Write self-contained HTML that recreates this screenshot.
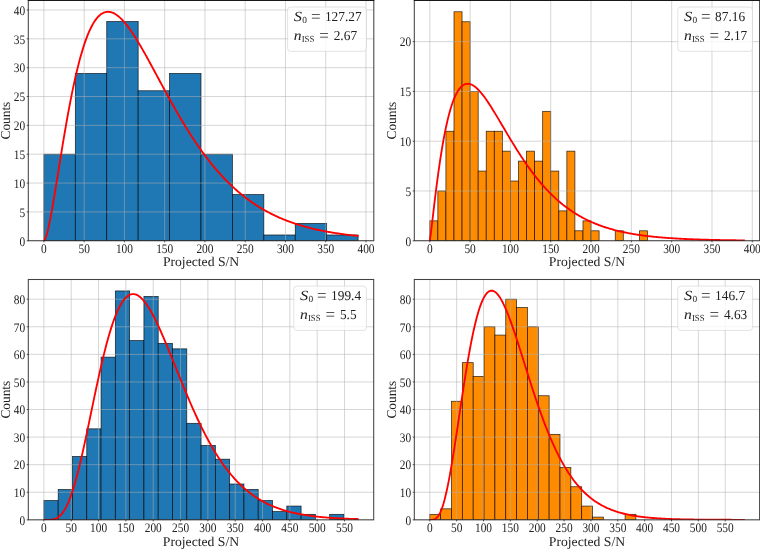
<!DOCTYPE html>
<html><head><meta charset="utf-8"><title>Projected S/N histograms</title>
<style>html,body{margin:0;padding:0;background:#fff;}body{width:760px;height:549px;overflow:hidden;font-family:"Liberation Serif", serif;}</style>
</head><body>
<svg width="760" height="549" viewBox="0 0 760 549" style="display:block;will-change:transform" text-rendering="geometricPrecision">
<defs><clipPath id="c0"><rect x="28.3" y="0.45" width="345.50" height="240.30"/></clipPath><clipPath id="c1"><rect x="414.3" y="0.45" width="345.30" height="240.30"/></clipPath><clipPath id="c2"><rect x="28.3" y="279.5" width="345.40" height="240.35"/></clipPath><clipPath id="c3"><rect x="414.3" y="279.5" width="345.30" height="240.35"/></clipPath></defs>
<g id="panel0">
<g clip-path="url(#c0)" fill="#1f77b4" stroke="#000" stroke-opacity="0.8" stroke-width="0.75">
<rect x="43.90" y="154.22" width="31.42" height="86.53"/>
<rect x="75.32" y="73.45" width="31.42" height="167.30"/>
<rect x="106.74" y="21.53" width="31.42" height="219.22"/>
<rect x="138.16" y="90.76" width="31.42" height="149.99"/>
<rect x="169.58" y="73.45" width="31.42" height="167.30"/>
<rect x="200.99" y="154.22" width="31.42" height="86.53"/>
<rect x="232.41" y="194.60" width="31.42" height="46.15"/>
<rect x="263.83" y="234.98" width="31.42" height="5.77"/>
<rect x="295.25" y="223.44" width="31.42" height="17.31"/>
<rect x="326.67" y="234.98" width="31.42" height="5.77"/>
</g>
<g clip-path="url(#c0)" stroke="#b0b0b0" stroke-opacity="0.52" stroke-width="1" fill="none">
<line x1="43.90" y1="0.45" x2="43.90" y2="240.75"/>
<line x1="84.16" y1="0.45" x2="84.16" y2="240.75"/>
<line x1="124.42" y1="0.45" x2="124.42" y2="240.75"/>
<line x1="164.68" y1="0.45" x2="164.68" y2="240.75"/>
<line x1="204.94" y1="0.45" x2="204.94" y2="240.75"/>
<line x1="245.20" y1="0.45" x2="245.20" y2="240.75"/>
<line x1="285.46" y1="0.45" x2="285.46" y2="240.75"/>
<line x1="325.72" y1="0.45" x2="325.72" y2="240.75"/>
<line x1="365.98" y1="0.45" x2="365.98" y2="240.75"/>
<line x1="28.3" y1="240.75" x2="373.8" y2="240.75"/>
<line x1="28.3" y1="211.91" x2="373.8" y2="211.91"/>
<line x1="28.3" y1="183.06" x2="373.8" y2="183.06"/>
<line x1="28.3" y1="154.22" x2="373.8" y2="154.22"/>
<line x1="28.3" y1="125.37" x2="373.8" y2="125.37"/>
<line x1="28.3" y1="96.53" x2="373.8" y2="96.53"/>
<line x1="28.3" y1="67.68" x2="373.8" y2="67.68"/>
<line x1="28.3" y1="38.84" x2="373.8" y2="38.84"/>
<line x1="28.3" y1="9.99" x2="373.8" y2="9.99"/>
</g>
<polyline clip-path="url(#c0)" points="43.90,240.75 44.95,239.52 46.00,236.94 47.05,233.45 48.09,229.27 49.14,224.54 50.19,219.36 51.24,213.82 52.29,208.00 53.34,201.96 54.38,195.74 55.43,189.40 56.48,182.97 57.53,176.49 58.58,169.98 59.63,163.48 60.67,157.00 61.72,150.58 62.77,144.22 63.82,137.94 64.87,131.77 65.92,125.70 66.96,119.76 68.01,113.94 69.06,108.27 70.11,102.75 71.16,97.38 72.21,92.16 73.25,87.11 74.30,82.23 75.35,77.52 76.40,72.98 77.45,68.61 78.50,64.41 79.54,60.39 80.59,56.55 81.64,52.88 82.69,49.38 83.74,46.06 84.79,42.90 85.83,39.92 86.88,37.11 87.93,34.46 88.98,31.97 90.03,29.64 91.08,27.48 92.13,25.46 93.17,23.60 94.22,21.89 95.27,20.33 96.32,18.91 97.37,17.63 98.42,16.49 99.46,15.47 100.51,14.59 101.56,13.84 102.61,13.21 103.66,12.70 104.71,12.30 105.75,12.02 106.80,11.85 107.85,11.78 108.90,11.82 109.95,11.96 111.00,12.19 112.04,12.51 113.09,12.93 114.14,13.43 115.19,14.01 116.24,14.68 117.29,15.42 118.33,16.23 119.38,17.12 120.43,18.08 121.48,19.10 122.53,20.18 123.58,21.32 124.62,22.52 125.67,23.78 126.72,25.08 127.77,26.44 128.82,27.84 129.87,29.29 130.91,30.78 131.96,32.31 133.01,33.88 134.06,35.48 135.11,37.12 136.16,38.79 137.20,40.49 138.25,42.21 139.30,43.96 140.35,45.74 141.40,47.54 142.45,49.36 143.50,51.19 144.54,53.05 145.59,54.92 146.64,56.80 147.69,58.69 148.74,60.60 149.79,62.52 150.83,64.44 151.88,66.38 152.93,68.32 153.98,70.26 155.03,72.21 156.08,74.15 157.12,76.11 158.17,78.06 159.22,80.01 160.27,81.96 161.32,83.90 162.37,85.85 163.41,87.79 164.46,89.72 165.51,91.65 166.56,93.57 167.61,95.49 168.66,97.40 169.70,99.30 170.75,101.19 171.80,103.07 172.85,104.94 173.90,106.80 174.95,108.65 175.99,110.49 177.04,112.31 178.09,114.13 179.14,115.93 180.19,117.71 181.24,119.49 182.28,121.25 183.33,122.99 184.38,124.72 185.43,126.44 186.48,128.14 187.53,129.82 188.58,131.49 189.62,133.15 190.67,134.79 191.72,136.41 192.77,138.01 193.82,139.60 194.87,141.18 195.91,142.73 196.96,144.27 198.01,145.80 199.06,147.30 200.11,148.79 201.16,150.27 202.20,151.72 203.25,153.16 204.30,154.58 205.35,155.99 206.40,157.37 207.45,158.74 208.49,160.10 209.54,161.43 210.59,162.75 211.64,164.06 212.69,165.34 213.74,166.61 214.78,167.86 215.83,169.10 216.88,170.32 217.93,171.52 218.98,172.71 220.03,173.88 221.07,175.03 222.12,176.17 223.17,177.29 224.22,178.40 225.27,179.49 226.32,180.56 227.36,181.62 228.41,182.66 229.46,183.69 230.51,184.70 231.56,185.70 232.61,186.68 233.66,187.65 234.70,188.60 235.75,189.54 236.80,190.47 237.85,191.38 238.90,192.27 239.95,193.16 240.99,194.02 242.04,194.88 243.09,195.72 244.14,196.55 245.19,197.36 246.24,198.16 247.28,198.95 248.33,199.73 249.38,200.49 250.43,201.24 251.48,201.98 252.53,202.70 253.57,203.42 254.62,204.12 255.67,204.81 256.72,205.49 257.77,206.16 258.82,206.81 259.86,207.46 260.91,208.09 261.96,208.71 263.01,209.33 264.06,209.93 265.11,210.52 266.15,211.10 267.20,211.67 268.25,212.23 269.30,212.79 270.35,213.33 271.40,213.86 272.44,214.38 273.49,214.90 274.54,215.40 275.59,215.90 276.64,216.38 277.69,216.86 278.73,217.33 279.78,217.79 280.83,218.24 281.88,218.69 282.93,219.12 283.98,219.55 285.03,219.97 286.07,220.39 287.12,220.79 288.17,221.19 289.22,221.58 290.27,221.96 291.32,222.34 292.36,222.71 293.41,223.07 294.46,223.43 295.51,223.77 296.56,224.12 297.61,224.45 298.65,224.78 299.70,225.11 300.75,225.42 301.80,225.73 302.85,226.04 303.90,226.34 304.94,226.63 305.99,226.92 307.04,227.20 308.09,227.48 309.14,227.75 310.19,228.02 311.23,228.28 312.28,228.54 313.33,228.79 314.38,229.04 315.43,229.28 316.48,229.51 317.52,229.75 318.57,229.97 319.62,230.20 320.67,230.42 321.72,230.63 322.77,230.84 323.81,231.05 324.86,231.25 325.91,231.45 326.96,231.64 328.01,231.83 329.06,232.02 330.11,232.20 331.15,232.38 332.20,232.56 333.25,232.73 334.30,232.90 335.35,233.07 336.40,233.23 337.44,233.39 338.49,233.54 339.54,233.69 340.59,233.84 341.64,233.99 342.69,234.13 343.73,234.27 344.78,234.41 345.83,234.55 346.88,234.68 347.93,234.81 348.98,234.93 350.02,235.06 351.07,235.18 352.12,235.30 353.17,235.42 354.22,235.53 355.27,235.64 356.31,235.75 357.36,235.86 358.41,235.96" fill="none" stroke="#ff0000" stroke-width="1.85" stroke-linejoin="round" stroke-linecap="butt"/>
<rect x="28.3" y="0.45" width="345.50" height="240.30" fill="none" stroke="#000" stroke-opacity="0.74" stroke-width="1.05"/>
<line x1="27.75" y1="0.5" x2="374.35" y2="0.5" stroke="#000" stroke-opacity="0.65" stroke-width="1"/>
<g stroke="#000" stroke-opacity="0.8" stroke-width="0.8">
<line x1="43.90" y1="240.75" x2="43.90" y2="242.35"/>
<line x1="84.16" y1="240.75" x2="84.16" y2="242.35"/>
<line x1="124.42" y1="240.75" x2="124.42" y2="242.35"/>
<line x1="164.68" y1="240.75" x2="164.68" y2="242.35"/>
<line x1="204.94" y1="240.75" x2="204.94" y2="242.35"/>
<line x1="245.20" y1="240.75" x2="245.20" y2="242.35"/>
<line x1="285.46" y1="240.75" x2="285.46" y2="242.35"/>
<line x1="325.72" y1="240.75" x2="325.72" y2="242.35"/>
<line x1="365.98" y1="240.75" x2="365.98" y2="242.35"/>
<line x1="28.3" y1="240.75" x2="26.7" y2="240.75"/>
<line x1="28.3" y1="211.91" x2="26.7" y2="211.91"/>
<line x1="28.3" y1="183.06" x2="26.7" y2="183.06"/>
<line x1="28.3" y1="154.22" x2="26.7" y2="154.22"/>
<line x1="28.3" y1="125.37" x2="26.7" y2="125.37"/>
<line x1="28.3" y1="96.53" x2="26.7" y2="96.53"/>
<line x1="28.3" y1="67.68" x2="26.7" y2="67.68"/>
<line x1="28.3" y1="38.84" x2="26.7" y2="38.84"/>
<line x1="28.3" y1="9.99" x2="26.7" y2="9.99"/>
</g>
<g font-family='"Liberation Serif", serif' font-size="13.0" fill="#222" opacity="0.999">
<text transform="translate(43.90,252.75) scale(0.875,1)" text-anchor="middle">0</text>
<text transform="translate(84.16,252.75) scale(0.875,1)" text-anchor="middle">50</text>
<text transform="translate(124.42,252.75) scale(0.875,1)" text-anchor="middle">100</text>
<text transform="translate(164.68,252.75) scale(0.875,1)" text-anchor="middle">150</text>
<text transform="translate(204.94,252.75) scale(0.875,1)" text-anchor="middle">200</text>
<text transform="translate(245.20,252.75) scale(0.875,1)" text-anchor="middle">250</text>
<text transform="translate(285.46,252.75) scale(0.875,1)" text-anchor="middle">300</text>
<text transform="translate(325.72,252.75) scale(0.875,1)" text-anchor="middle">350</text>
<text transform="translate(365.98,252.75) scale(0.875,1)" text-anchor="middle">400</text>
<text transform="translate(25.10,245.55) scale(0.875,1)" text-anchor="end">0</text>
<text transform="translate(25.10,216.71) scale(0.875,1)" text-anchor="end">5</text>
<text transform="translate(25.10,187.86) scale(0.875,1)" text-anchor="end">10</text>
<text transform="translate(25.10,159.02) scale(0.875,1)" text-anchor="end">15</text>
<text transform="translate(25.10,130.17) scale(0.875,1)" text-anchor="end">20</text>
<text transform="translate(25.10,101.33) scale(0.875,1)" text-anchor="end">25</text>
<text transform="translate(25.10,72.48) scale(0.875,1)" text-anchor="end">30</text>
<text transform="translate(25.10,43.64) scale(0.875,1)" text-anchor="end">35</text>
<text transform="translate(25.10,14.79) scale(0.875,1)" text-anchor="end">40</text>
</g>
<text x="201.05" y="266.45" text-anchor="middle" font-family='"Liberation Serif", serif' font-size="13.5" fill="#222" textLength="76.3" lengthAdjust="spacingAndGlyphs">Projected S/N</text>
<text transform="translate(10.10,120.60) rotate(-90)" text-anchor="middle" font-family='"Liberation Serif", serif' font-size="13.5" fill="#222" textLength="37.8" lengthAdjust="spacingAndGlyphs">Counts</text>
<rect x="287.60" y="7.05" width="78.80" height="44.30" rx="3" ry="3" fill="#fff" fill-opacity="0.8" stroke="#ccc" stroke-opacity="0.8" stroke-width="0.7"/>
<g font-family='"Liberation Serif", serif' font-size="13.3" fill="#222" opacity="0.999">
<text x="293.70" y="21.05" font-style="italic" font-size="14" textLength="8.2" lengthAdjust="spacingAndGlyphs">S</text>
<text x="302.20" y="23.15" font-size="9.31">0</text>
<text x="310.90" y="22.05" font-size="17">=</text>
<text transform="translate(324.90,21.25) scale(0.975,1)" font-size="13.7">127.27</text>
<text x="293.80" y="39.95" font-style="italic" font-size="14" textLength="7.8" lengthAdjust="spacingAndGlyphs">n</text>
<text x="301.70" y="42.05" font-size="9.31" textLength="12.6" lengthAdjust="spacingAndGlyphs">ISS</text>
<text x="319.30" y="40.95" font-size="17">=</text>
<text transform="translate(333.70,40.15) scale(0.975,1)" font-size="13.7">2.67</text>
</g>
</g>
<g id="panel1">
<g clip-path="url(#c1)" fill="#ff8c00" stroke="#000" stroke-opacity="0.8" stroke-width="0.75">
<rect x="429.80" y="220.84" width="8.06" height="19.91"/>
<rect x="437.86" y="190.97" width="8.06" height="49.77"/>
<rect x="445.92" y="131.25" width="8.06" height="109.50"/>
<rect x="453.99" y="11.78" width="8.06" height="228.97"/>
<rect x="462.05" y="21.74" width="8.06" height="219.01"/>
<rect x="470.11" y="91.43" width="8.06" height="149.32"/>
<rect x="478.17" y="171.06" width="8.06" height="69.69"/>
<rect x="486.23" y="131.25" width="8.06" height="109.50"/>
<rect x="494.30" y="131.25" width="8.06" height="109.50"/>
<rect x="502.36" y="151.16" width="8.06" height="89.59"/>
<rect x="510.42" y="181.02" width="8.06" height="59.73"/>
<rect x="518.48" y="161.11" width="8.06" height="79.64"/>
<rect x="526.54" y="151.16" width="8.06" height="89.59"/>
<rect x="534.61" y="161.11" width="8.06" height="79.64"/>
<rect x="542.67" y="111.34" width="8.06" height="129.41"/>
<rect x="550.73" y="171.06" width="8.06" height="69.69"/>
<rect x="558.79" y="210.88" width="8.06" height="29.87"/>
<rect x="566.85" y="151.16" width="8.06" height="89.59"/>
<rect x="574.92" y="230.79" width="8.06" height="9.96"/>
<rect x="582.98" y="220.84" width="8.06" height="19.91"/>
<rect x="591.04" y="230.79" width="8.06" height="9.96"/>
<rect x="615.23" y="230.79" width="8.06" height="9.96"/>
<rect x="639.41" y="230.79" width="8.06" height="9.96"/>
</g>
<g clip-path="url(#c1)" stroke="#b0b0b0" stroke-opacity="0.52" stroke-width="1" fill="none">
<line x1="429.80" y1="0.45" x2="429.80" y2="240.75"/>
<line x1="470.11" y1="0.45" x2="470.11" y2="240.75"/>
<line x1="510.42" y1="0.45" x2="510.42" y2="240.75"/>
<line x1="550.73" y1="0.45" x2="550.73" y2="240.75"/>
<line x1="591.04" y1="0.45" x2="591.04" y2="240.75"/>
<line x1="631.35" y1="0.45" x2="631.35" y2="240.75"/>
<line x1="671.66" y1="0.45" x2="671.66" y2="240.75"/>
<line x1="711.97" y1="0.45" x2="711.97" y2="240.75"/>
<line x1="752.28" y1="0.45" x2="752.28" y2="240.75"/>
<line x1="414.3" y1="240.75" x2="759.6" y2="240.75"/>
<line x1="414.3" y1="190.97" x2="759.6" y2="190.97"/>
<line x1="414.3" y1="141.20" x2="759.6" y2="141.20"/>
<line x1="414.3" y1="91.43" x2="759.6" y2="91.43"/>
<line x1="414.3" y1="41.65" x2="759.6" y2="41.65"/>
</g>
<polyline clip-path="url(#c1)" points="429.80,240.75 430.85,233.37 431.90,224.68 432.95,215.74 434.00,206.85 435.05,198.14 436.10,189.69 437.15,181.56 438.20,173.75 439.25,166.31 440.30,159.23 441.35,152.52 442.40,146.18 443.45,140.21 444.50,134.61 445.55,129.36 446.60,124.45 447.65,119.89 448.70,115.65 449.75,111.74 450.80,108.13 451.85,104.82 452.90,101.79 453.95,99.05 455.01,96.57 456.06,94.34 457.11,92.35 458.16,90.60 459.21,89.08 460.26,87.76 461.31,86.65 462.36,85.74 463.41,85.00 464.46,84.45 465.51,84.06 466.56,83.82 467.61,83.74 468.66,83.80 469.71,83.99 470.76,84.31 471.81,84.75 472.86,85.30 473.91,85.96 474.96,86.72 476.01,87.57 477.06,88.51 478.11,89.52 479.16,90.62 480.21,91.79 481.26,93.02 482.31,94.31 483.36,95.66 484.41,97.06 485.46,98.52 486.51,100.01 487.56,101.54 488.61,103.12 489.66,104.72 490.71,106.35 491.76,108.01 492.81,109.70 493.86,111.40 494.91,113.13 495.96,114.86 497.01,116.61 498.06,118.38 499.11,120.15 500.16,121.92 501.21,123.70 502.26,125.49 503.31,127.27 504.36,129.05 505.42,130.83 506.47,132.61 507.52,134.38 508.57,136.15 509.62,137.90 510.67,139.65 511.72,141.39 512.77,143.11 513.82,144.83 514.87,146.53 515.92,148.22 516.97,149.89 518.02,151.55 519.07,153.19 520.12,154.82 521.17,156.43 522.22,158.02 523.27,159.59 524.32,161.15 525.37,162.69 526.42,164.21 527.47,165.70 528.52,167.18 529.57,168.65 530.62,170.09 531.67,171.51 532.72,172.91 533.77,174.29 534.82,175.65 535.87,176.99 536.92,178.31 537.97,179.60 539.02,180.88 540.07,182.14 541.12,183.38 542.17,184.60 543.22,185.79 544.27,186.97 545.32,188.13 546.37,189.26 547.42,190.38 548.47,191.48 549.52,192.56 550.57,193.62 551.62,194.65 552.67,195.68 553.72,196.68 554.77,197.66 555.83,198.62 556.88,199.57 557.93,200.50 558.98,201.41 560.03,202.30 561.08,203.18 562.13,204.04 563.18,204.88 564.23,205.70 565.28,206.51 566.33,207.30 567.38,208.08 568.43,208.84 569.48,209.58 570.53,210.31 571.58,211.03 572.63,211.72 573.68,212.41 574.73,213.08 575.78,213.73 576.83,214.38 577.88,215.00 578.93,215.62 579.98,216.22 581.03,216.81 582.08,217.38 583.13,217.95 584.18,218.50 585.23,219.04 586.28,219.56 587.33,220.08 588.38,220.58 589.43,221.07 590.48,221.56 591.53,222.03 592.58,222.49 593.63,222.93 594.68,223.37 595.73,223.80 596.78,224.22 597.83,224.63 598.88,225.03 599.93,225.42 600.98,225.80 602.03,226.18 603.08,226.54 604.13,226.90 605.19,227.25 606.24,227.58 607.29,227.92 608.34,228.24 609.39,228.56 610.44,228.86 611.49,229.16 612.54,229.46 613.59,229.75 614.64,230.03 615.69,230.30 616.74,230.57 617.79,230.83 618.84,231.08 619.89,231.33 620.94,231.57 621.99,231.80 623.04,232.03 624.09,232.26 625.14,232.48 626.19,232.69 627.24,232.90 628.29,233.10 629.34,233.30 630.39,233.49 631.44,233.68 632.49,233.87 633.54,234.05 634.59,234.22 635.64,234.39 636.69,234.56 637.74,234.72 638.79,234.88 639.84,235.03 640.89,235.18 641.94,235.33 642.99,235.47 644.04,235.61 645.09,235.74 646.14,235.88 647.19,236.01 648.24,236.13 649.29,236.25 650.34,236.37 651.39,236.49 652.44,236.60 653.49,236.71 654.54,236.82 655.60,236.92 656.65,237.03 657.70,237.13 658.75,237.22 659.80,237.32 660.85,237.41 661.90,237.50 662.95,237.58 664.00,237.67 665.05,237.75 666.10,237.83 667.15,237.91 668.20,237.99 669.25,238.06 670.30,238.13 671.35,238.20 672.40,238.27 673.45,238.34 674.50,238.41 675.55,238.47 676.60,238.53 677.65,238.59 678.70,238.65 679.75,238.71 680.80,238.76 681.85,238.82 682.90,238.87 683.95,238.92 685.00,238.97 686.05,239.02 687.10,239.07 688.15,239.11 689.20,239.16 690.25,239.20 691.30,239.24 692.35,239.28 693.40,239.32 694.45,239.36 695.50,239.40 696.55,239.44 697.60,239.47 698.65,239.51 699.70,239.54 700.75,239.58 701.80,239.61 702.85,239.64 703.90,239.67 704.95,239.70 706.01,239.73 707.06,239.76 708.11,239.78 709.16,239.81 710.21,239.84 711.26,239.86 712.31,239.89 713.36,239.91 714.41,239.93 715.46,239.96 716.51,239.98 717.56,240.00 718.61,240.02 719.66,240.04 720.71,240.06 721.76,240.08 722.81,240.10 723.86,240.12 724.91,240.13 725.96,240.15 727.01,240.17 728.06,240.18 729.11,240.20 730.16,240.22 731.21,240.23 732.26,240.25 733.31,240.26 734.36,240.27 735.41,240.29 736.46,240.30 737.51,240.31 738.56,240.32 739.61,240.34 740.66,240.35 741.71,240.36 742.76,240.37 743.81,240.38 744.86,240.39" fill="none" stroke="#ff0000" stroke-width="1.85" stroke-linejoin="round" stroke-linecap="butt"/>
<rect x="414.3" y="0.45" width="345.30" height="240.30" fill="none" stroke="#000" stroke-opacity="0.74" stroke-width="1.05"/>
<line x1="413.75" y1="0.5" x2="760.15" y2="0.5" stroke="#000" stroke-opacity="0.65" stroke-width="1"/>
<g stroke="#000" stroke-opacity="0.8" stroke-width="0.8">
<line x1="429.80" y1="240.75" x2="429.80" y2="242.35"/>
<line x1="470.11" y1="240.75" x2="470.11" y2="242.35"/>
<line x1="510.42" y1="240.75" x2="510.42" y2="242.35"/>
<line x1="550.73" y1="240.75" x2="550.73" y2="242.35"/>
<line x1="591.04" y1="240.75" x2="591.04" y2="242.35"/>
<line x1="631.35" y1="240.75" x2="631.35" y2="242.35"/>
<line x1="671.66" y1="240.75" x2="671.66" y2="242.35"/>
<line x1="711.97" y1="240.75" x2="711.97" y2="242.35"/>
<line x1="752.28" y1="240.75" x2="752.28" y2="242.35"/>
<line x1="414.3" y1="240.75" x2="412.7" y2="240.75"/>
<line x1="414.3" y1="190.97" x2="412.7" y2="190.97"/>
<line x1="414.3" y1="141.20" x2="412.7" y2="141.20"/>
<line x1="414.3" y1="91.43" x2="412.7" y2="91.43"/>
<line x1="414.3" y1="41.65" x2="412.7" y2="41.65"/>
</g>
<g font-family='"Liberation Serif", serif' font-size="13.0" fill="#222" opacity="0.999">
<text transform="translate(429.80,252.75) scale(0.875,1)" text-anchor="middle">0</text>
<text transform="translate(470.11,252.75) scale(0.875,1)" text-anchor="middle">50</text>
<text transform="translate(510.42,252.75) scale(0.875,1)" text-anchor="middle">100</text>
<text transform="translate(550.73,252.75) scale(0.875,1)" text-anchor="middle">150</text>
<text transform="translate(591.04,252.75) scale(0.875,1)" text-anchor="middle">200</text>
<text transform="translate(631.35,252.75) scale(0.875,1)" text-anchor="middle">250</text>
<text transform="translate(671.66,252.75) scale(0.875,1)" text-anchor="middle">300</text>
<text transform="translate(711.97,252.75) scale(0.875,1)" text-anchor="middle">350</text>
<text transform="translate(752.28,252.75) scale(0.875,1)" text-anchor="middle">400</text>
<text transform="translate(411.10,245.55) scale(0.875,1)" text-anchor="end">0</text>
<text transform="translate(411.10,195.78) scale(0.875,1)" text-anchor="end">5</text>
<text transform="translate(411.10,146.00) scale(0.875,1)" text-anchor="end">10</text>
<text transform="translate(411.10,96.23) scale(0.875,1)" text-anchor="end">15</text>
<text transform="translate(411.10,46.45) scale(0.875,1)" text-anchor="end">20</text>
</g>
<text x="586.95" y="266.45" text-anchor="middle" font-family='"Liberation Serif", serif' font-size="13.5" fill="#222" textLength="76.3" lengthAdjust="spacingAndGlyphs">Projected S/N</text>
<text transform="translate(396.10,120.60) rotate(-90)" text-anchor="middle" font-family='"Liberation Serif", serif' font-size="13.5" fill="#222" textLength="37.8" lengthAdjust="spacingAndGlyphs">Counts</text>
<rect x="677.80" y="7.05" width="74.70" height="44.30" rx="3" ry="3" fill="#fff" fill-opacity="0.8" stroke="#ccc" stroke-opacity="0.8" stroke-width="0.7"/>
<g font-family='"Liberation Serif", serif' font-size="13.3" fill="#222" opacity="0.999">
<text x="683.90" y="21.05" font-style="italic" font-size="14" textLength="8.2" lengthAdjust="spacingAndGlyphs">S</text>
<text x="692.40" y="23.15" font-size="9.31">0</text>
<text x="701.10" y="22.05" font-size="17">=</text>
<text transform="translate(715.10,21.25) scale(0.975,1)" font-size="13.7">87.16</text>
<text x="684.00" y="39.95" font-style="italic" font-size="14" textLength="7.8" lengthAdjust="spacingAndGlyphs">n</text>
<text x="691.90" y="42.05" font-size="9.31" textLength="12.6" lengthAdjust="spacingAndGlyphs">ISS</text>
<text x="709.50" y="40.95" font-size="17">=</text>
<text transform="translate(723.90,40.15) scale(0.975,1)" font-size="13.7">2.17</text>
</g>
</g>
<g id="panel2">
<g clip-path="url(#c2)" fill="#1f77b4" stroke="#000" stroke-opacity="0.8" stroke-width="0.75">
<rect x="43.90" y="500.54" width="14.29" height="19.31"/>
<rect x="58.19" y="489.51" width="14.29" height="30.34"/>
<rect x="72.48" y="456.42" width="14.29" height="63.43"/>
<rect x="86.76" y="428.84" width="14.29" height="91.01"/>
<rect x="101.05" y="357.13" width="14.29" height="162.72"/>
<rect x="115.34" y="290.94" width="14.29" height="228.91"/>
<rect x="129.63" y="340.58" width="14.29" height="179.27"/>
<rect x="143.92" y="296.45" width="14.29" height="223.40"/>
<rect x="158.20" y="343.34" width="14.29" height="176.51"/>
<rect x="172.49" y="348.85" width="14.29" height="171.00"/>
<rect x="186.78" y="423.32" width="14.29" height="96.53"/>
<rect x="201.07" y="445.38" width="14.29" height="74.47"/>
<rect x="215.36" y="459.17" width="14.29" height="60.68"/>
<rect x="229.65" y="484.00" width="14.29" height="35.85"/>
<rect x="243.93" y="489.51" width="14.29" height="30.34"/>
<rect x="258.22" y="500.54" width="14.29" height="19.31"/>
<rect x="272.51" y="511.58" width="14.29" height="8.27"/>
<rect x="286.80" y="506.06" width="14.29" height="13.79"/>
<rect x="301.09" y="514.33" width="14.29" height="5.52"/>
<rect x="329.66" y="514.33" width="14.29" height="5.52"/>
</g>
<g clip-path="url(#c2)" stroke="#b0b0b0" stroke-opacity="0.52" stroke-width="1" fill="none">
<line x1="43.90" y1="279.5" x2="43.90" y2="519.85"/>
<line x1="71.23" y1="279.5" x2="71.23" y2="519.85"/>
<line x1="98.56" y1="279.5" x2="98.56" y2="519.85"/>
<line x1="125.89" y1="279.5" x2="125.89" y2="519.85"/>
<line x1="153.22" y1="279.5" x2="153.22" y2="519.85"/>
<line x1="180.55" y1="279.5" x2="180.55" y2="519.85"/>
<line x1="207.88" y1="279.5" x2="207.88" y2="519.85"/>
<line x1="235.21" y1="279.5" x2="235.21" y2="519.85"/>
<line x1="262.54" y1="279.5" x2="262.54" y2="519.85"/>
<line x1="289.87" y1="279.5" x2="289.87" y2="519.85"/>
<line x1="317.20" y1="279.5" x2="317.20" y2="519.85"/>
<line x1="344.53" y1="279.5" x2="344.53" y2="519.85"/>
<line x1="28.3" y1="519.85" x2="373.7" y2="519.85"/>
<line x1="28.3" y1="492.27" x2="373.7" y2="492.27"/>
<line x1="28.3" y1="464.69" x2="373.7" y2="464.69"/>
<line x1="28.3" y1="437.11" x2="373.7" y2="437.11"/>
<line x1="28.3" y1="409.53" x2="373.7" y2="409.53"/>
<line x1="28.3" y1="381.95" x2="373.7" y2="381.95"/>
<line x1="28.3" y1="354.37" x2="373.7" y2="354.37"/>
<line x1="28.3" y1="326.79" x2="373.7" y2="326.79"/>
<line x1="28.3" y1="299.21" x2="373.7" y2="299.21"/>
</g>
<polyline clip-path="url(#c2)" points="43.90,519.85 44.95,519.85 46.00,519.85 47.05,519.84 48.10,519.83 49.15,519.80 50.20,519.75 51.25,519.66 52.30,519.53 53.35,519.33 54.39,519.06 55.44,518.70 56.49,518.24 57.54,517.66 58.59,516.95 59.64,516.10 60.69,515.10 61.74,513.93 62.79,512.59 63.84,511.07 64.89,509.36 65.94,507.45 66.99,505.36 68.04,503.06 69.09,500.56 70.14,497.87 71.19,494.98 72.24,491.90 73.29,488.63 74.33,485.17 75.38,481.54 76.43,477.74 77.48,473.78 78.53,469.66 79.58,465.41 80.63,461.02 81.68,456.51 82.73,451.90 83.78,447.19 84.83,442.39 85.88,437.52 86.93,432.59 87.98,427.61 89.03,422.60 90.08,417.56 91.13,412.51 92.18,407.47 93.23,402.43 94.27,397.42 95.32,392.45 96.37,387.52 97.42,382.65 98.47,377.84 99.52,373.11 100.57,368.47 101.62,363.92 102.67,359.47 103.72,355.14 104.77,350.91 105.82,346.82 106.87,342.85 107.92,339.02 108.97,335.32 110.02,331.78 111.07,328.38 112.12,325.13 113.17,322.04 114.21,319.11 115.26,316.34 116.31,313.73 117.36,311.29 118.41,309.01 119.46,306.89 120.51,304.94 121.56,303.16 122.61,301.54 123.66,300.08 124.71,298.79 125.76,297.66 126.81,296.69 127.86,295.87 128.91,295.21 129.96,294.70 131.01,294.35 132.06,294.14 133.11,294.07 134.15,294.14 135.20,294.35 136.25,294.70 137.30,295.17 138.35,295.77 139.40,296.50 140.45,297.34 141.50,298.30 142.55,299.36 143.60,300.54 144.65,301.82 145.70,303.19 146.75,304.66 147.80,306.22 148.85,307.86 149.90,309.59 150.95,311.40 152.00,313.28 153.05,315.23 154.09,317.24 155.14,319.32 156.19,321.45 157.24,323.64 158.29,325.88 159.34,328.17 160.39,330.50 161.44,332.87 162.49,335.28 163.54,337.72 164.59,340.19 165.64,342.69 166.69,345.21 167.74,347.75 168.79,350.31 169.84,352.88 170.89,355.47 171.94,358.07 172.99,360.67 174.03,363.28 175.08,365.89 176.13,368.50 177.18,371.11 178.23,373.71 179.28,376.31 180.33,378.90 181.38,381.48 182.43,384.05 183.48,386.61 184.53,389.15 185.58,391.67 186.63,394.18 187.68,396.67 188.73,399.13 189.78,401.58 190.83,404.00 191.88,406.40 192.93,408.78 193.97,411.13 195.02,413.45 196.07,415.74 197.12,418.01 198.17,420.25 199.22,422.46 200.27,424.65 201.32,426.80 202.37,428.92 203.42,431.01 204.47,433.07 205.52,435.10 206.57,437.09 207.62,439.06 208.67,440.99 209.72,442.89 210.77,444.76 211.82,446.59 212.86,448.39 213.91,450.17 214.96,451.90 216.01,453.61 217.06,455.28 218.11,456.93 219.16,458.54 220.21,460.12 221.26,461.66 222.31,463.18 223.36,464.67 224.41,466.12 225.46,467.55 226.51,468.94 227.56,470.31 228.61,471.64 229.66,472.95 230.71,474.22 231.76,475.47 232.80,476.69 233.85,477.89 234.90,479.05 235.95,480.19 237.00,481.30 238.05,482.39 239.10,483.45 240.15,484.48 241.20,485.49 242.25,486.48 243.30,487.44 244.35,488.37 245.40,489.29 246.45,490.18 247.50,491.05 248.55,491.89 249.60,492.72 250.65,493.52 251.70,494.30 252.74,495.07 253.79,495.81 254.84,496.53 255.89,497.23 256.94,497.92 257.99,498.58 259.04,499.23 260.09,499.86 261.14,500.48 262.19,501.07 263.24,501.65 264.29,502.22 265.34,502.77 266.39,503.30 267.44,503.82 268.49,504.32 269.54,504.81 270.59,505.28 271.64,505.74 272.68,506.19 273.73,506.63 274.78,507.05 275.83,507.46 276.88,507.86 277.93,508.24 278.98,508.62 280.03,508.98 281.08,509.33 282.13,509.68 283.18,510.01 284.23,510.33 285.28,510.64 286.33,510.95 287.38,511.24 288.43,511.52 289.48,511.80 290.53,512.07 291.58,512.33 292.62,512.58 293.67,512.82 294.72,513.06 295.77,513.28 296.82,513.51 297.87,513.72 298.92,513.93 299.97,514.13 301.02,514.32 302.07,514.51 303.12,514.69 304.17,514.87 305.22,515.04 306.27,515.20 307.32,515.36 308.37,515.52 309.42,515.67 310.47,515.81 311.52,515.95 312.56,516.09 313.61,516.22 314.66,516.35 315.71,516.47 316.76,516.59 317.81,516.70 318.86,516.81 319.91,516.92 320.96,517.02 322.01,517.12 323.06,517.22 324.11,517.31 325.16,517.40 326.21,517.49 327.26,517.57 328.31,517.65 329.36,517.73 330.41,517.81 331.46,517.88 332.50,517.95 333.55,518.02 334.60,518.09 335.65,518.15 336.70,518.21 337.75,518.27 338.80,518.33 339.85,518.38 340.90,518.44 341.95,518.49 343.00,518.54 344.05,518.59 345.10,518.63 346.15,518.68 347.20,518.72 348.25,518.76 349.30,518.80 350.35,518.84 351.40,518.88 352.44,518.91 353.49,518.95 354.54,518.98 355.59,519.01 356.64,519.04 357.69,519.07 358.74,519.10" fill="none" stroke="#ff0000" stroke-width="1.85" stroke-linejoin="round" stroke-linecap="butt"/>
<rect x="28.3" y="279.5" width="345.40" height="240.35" fill="none" stroke="#000" stroke-opacity="0.74" stroke-width="1.05"/>
<g stroke="#000" stroke-opacity="0.8" stroke-width="0.8">
<line x1="43.90" y1="519.85" x2="43.90" y2="521.45"/>
<line x1="71.23" y1="519.85" x2="71.23" y2="521.45"/>
<line x1="98.56" y1="519.85" x2="98.56" y2="521.45"/>
<line x1="125.89" y1="519.85" x2="125.89" y2="521.45"/>
<line x1="153.22" y1="519.85" x2="153.22" y2="521.45"/>
<line x1="180.55" y1="519.85" x2="180.55" y2="521.45"/>
<line x1="207.88" y1="519.85" x2="207.88" y2="521.45"/>
<line x1="235.21" y1="519.85" x2="235.21" y2="521.45"/>
<line x1="262.54" y1="519.85" x2="262.54" y2="521.45"/>
<line x1="289.87" y1="519.85" x2="289.87" y2="521.45"/>
<line x1="317.20" y1="519.85" x2="317.20" y2="521.45"/>
<line x1="344.53" y1="519.85" x2="344.53" y2="521.45"/>
<line x1="28.3" y1="519.85" x2="26.7" y2="519.85"/>
<line x1="28.3" y1="492.27" x2="26.7" y2="492.27"/>
<line x1="28.3" y1="464.69" x2="26.7" y2="464.69"/>
<line x1="28.3" y1="437.11" x2="26.7" y2="437.11"/>
<line x1="28.3" y1="409.53" x2="26.7" y2="409.53"/>
<line x1="28.3" y1="381.95" x2="26.7" y2="381.95"/>
<line x1="28.3" y1="354.37" x2="26.7" y2="354.37"/>
<line x1="28.3" y1="326.79" x2="26.7" y2="326.79"/>
<line x1="28.3" y1="299.21" x2="26.7" y2="299.21"/>
</g>
<g font-family='"Liberation Serif", serif' font-size="13.0" fill="#222" opacity="0.999">
<text transform="translate(43.90,531.85) scale(0.875,1)" text-anchor="middle">0</text>
<text transform="translate(71.23,531.85) scale(0.875,1)" text-anchor="middle">50</text>
<text transform="translate(98.56,531.85) scale(0.875,1)" text-anchor="middle">100</text>
<text transform="translate(125.89,531.85) scale(0.875,1)" text-anchor="middle">150</text>
<text transform="translate(153.22,531.85) scale(0.875,1)" text-anchor="middle">200</text>
<text transform="translate(180.55,531.85) scale(0.875,1)" text-anchor="middle">250</text>
<text transform="translate(207.88,531.85) scale(0.875,1)" text-anchor="middle">300</text>
<text transform="translate(235.21,531.85) scale(0.875,1)" text-anchor="middle">350</text>
<text transform="translate(262.54,531.85) scale(0.875,1)" text-anchor="middle">400</text>
<text transform="translate(289.87,531.85) scale(0.875,1)" text-anchor="middle">450</text>
<text transform="translate(317.20,531.85) scale(0.875,1)" text-anchor="middle">500</text>
<text transform="translate(344.53,531.85) scale(0.875,1)" text-anchor="middle">550</text>
<text transform="translate(25.10,524.65) scale(0.875,1)" text-anchor="end">0</text>
<text transform="translate(25.10,497.07) scale(0.875,1)" text-anchor="end">10</text>
<text transform="translate(25.10,469.49) scale(0.875,1)" text-anchor="end">20</text>
<text transform="translate(25.10,441.91) scale(0.875,1)" text-anchor="end">30</text>
<text transform="translate(25.10,414.33) scale(0.875,1)" text-anchor="end">40</text>
<text transform="translate(25.10,386.75) scale(0.875,1)" text-anchor="end">50</text>
<text transform="translate(25.10,359.17) scale(0.875,1)" text-anchor="end">60</text>
<text transform="translate(25.10,331.59) scale(0.875,1)" text-anchor="end">70</text>
<text transform="translate(25.10,304.01) scale(0.875,1)" text-anchor="end">80</text>
</g>
<text x="201.00" y="545.55" text-anchor="middle" font-family='"Liberation Serif", serif' font-size="13.5" fill="#222" textLength="76.3" lengthAdjust="spacingAndGlyphs">Projected S/N</text>
<text transform="translate(10.10,399.68) rotate(-90)" text-anchor="middle" font-family='"Liberation Serif", serif' font-size="13.5" fill="#222" textLength="37.8" lengthAdjust="spacingAndGlyphs">Counts</text>
<rect x="293.80" y="286.10" width="72.60" height="44.30" rx="3" ry="3" fill="#fff" fill-opacity="0.8" stroke="#ccc" stroke-opacity="0.8" stroke-width="0.7"/>
<g font-family='"Liberation Serif", serif' font-size="13.3" fill="#222" opacity="0.999">
<text x="299.90" y="300.10" font-style="italic" font-size="14" textLength="8.2" lengthAdjust="spacingAndGlyphs">S</text>
<text x="308.40" y="302.20" font-size="9.31">0</text>
<text x="317.10" y="301.10" font-size="17">=</text>
<text transform="translate(331.10,300.30) scale(0.975,1)" font-size="13.7">199.4</text>
<text x="300.00" y="319.00" font-style="italic" font-size="14" textLength="7.8" lengthAdjust="spacingAndGlyphs">n</text>
<text x="307.90" y="321.10" font-size="9.31" textLength="12.6" lengthAdjust="spacingAndGlyphs">ISS</text>
<text x="325.50" y="320.00" font-size="17">=</text>
<text transform="translate(339.90,319.20) scale(0.975,1)" font-size="13.7">5.5</text>
</g>
</g>
<g id="panel3">
<g clip-path="url(#c3)" fill="#ff8c00" stroke="#000" stroke-opacity="0.8" stroke-width="0.75">
<rect x="429.80" y="514.33" width="10.85" height="5.52"/>
<rect x="440.65" y="508.82" width="10.85" height="11.03"/>
<rect x="451.50" y="401.26" width="10.85" height="118.59"/>
<rect x="462.35" y="362.64" width="10.85" height="157.21"/>
<rect x="473.20" y="376.43" width="10.85" height="143.42"/>
<rect x="484.05" y="326.79" width="10.85" height="193.06"/>
<rect x="494.90" y="335.06" width="10.85" height="184.79"/>
<rect x="505.75" y="299.21" width="10.85" height="220.64"/>
<rect x="516.60" y="307.48" width="10.85" height="212.37"/>
<rect x="527.44" y="326.79" width="10.85" height="193.06"/>
<rect x="538.29" y="395.74" width="10.85" height="124.11"/>
<rect x="549.14" y="434.35" width="10.85" height="85.50"/>
<rect x="559.99" y="467.45" width="10.85" height="52.40"/>
<rect x="570.84" y="486.75" width="10.85" height="33.10"/>
<rect x="581.69" y="506.06" width="10.85" height="13.79"/>
<rect x="592.54" y="517.09" width="10.85" height="2.76"/>
<rect x="625.09" y="514.33" width="10.85" height="5.52"/>
</g>
<g clip-path="url(#c3)" stroke="#b0b0b0" stroke-opacity="0.52" stroke-width="1" fill="none">
<line x1="429.80" y1="279.5" x2="429.80" y2="519.85"/>
<line x1="456.66" y1="279.5" x2="456.66" y2="519.85"/>
<line x1="483.51" y1="279.5" x2="483.51" y2="519.85"/>
<line x1="510.37" y1="279.5" x2="510.37" y2="519.85"/>
<line x1="537.22" y1="279.5" x2="537.22" y2="519.85"/>
<line x1="564.08" y1="279.5" x2="564.08" y2="519.85"/>
<line x1="590.93" y1="279.5" x2="590.93" y2="519.85"/>
<line x1="617.79" y1="279.5" x2="617.79" y2="519.85"/>
<line x1="644.64" y1="279.5" x2="644.64" y2="519.85"/>
<line x1="671.50" y1="279.5" x2="671.50" y2="519.85"/>
<line x1="698.35" y1="279.5" x2="698.35" y2="519.85"/>
<line x1="725.21" y1="279.5" x2="725.21" y2="519.85"/>
<line x1="414.3" y1="519.85" x2="759.6" y2="519.85"/>
<line x1="414.3" y1="492.27" x2="759.6" y2="492.27"/>
<line x1="414.3" y1="464.69" x2="759.6" y2="464.69"/>
<line x1="414.3" y1="437.11" x2="759.6" y2="437.11"/>
<line x1="414.3" y1="409.53" x2="759.6" y2="409.53"/>
<line x1="414.3" y1="381.95" x2="759.6" y2="381.95"/>
<line x1="414.3" y1="354.37" x2="759.6" y2="354.37"/>
<line x1="414.3" y1="326.79" x2="759.6" y2="326.79"/>
<line x1="414.3" y1="299.21" x2="759.6" y2="299.21"/>
</g>
<polyline clip-path="url(#c3)" points="429.80,519.85 430.85,519.85 431.90,519.81 432.95,519.70 434.00,519.46 435.05,519.03 436.10,518.35 437.15,517.38 438.20,516.08 439.25,514.41 440.30,512.35 441.35,509.88 442.40,507.00 443.45,503.69 444.50,499.97 445.55,495.84 446.60,491.32 447.65,486.43 448.70,481.18 449.75,475.61 450.80,469.75 451.85,463.62 452.90,457.26 453.95,450.70 455.00,443.97 456.05,437.12 457.10,430.17 458.15,423.16 459.20,416.11 460.25,409.07 461.30,402.06 462.35,395.11 463.40,388.25 464.45,381.50 465.50,374.89 466.55,368.45 467.60,362.18 468.65,356.11 469.70,350.26 470.75,344.64 471.80,339.27 472.85,334.16 473.90,329.31 474.95,324.74 476.00,320.45 477.05,316.44 478.10,312.73 479.15,309.32 480.20,306.19 481.25,303.37 482.30,300.83 483.35,298.59 484.40,296.64 485.45,294.97 486.50,293.58 487.55,292.47 488.60,291.63 489.65,291.04 490.70,290.72 491.75,290.64 492.80,290.79 493.85,291.18 494.90,291.79 495.95,292.62 497.00,293.65 498.05,294.87 499.10,296.28 500.15,297.86 501.20,299.62 502.25,301.53 503.30,303.58 504.35,305.78 505.40,308.11 506.45,310.56 507.50,313.12 508.55,315.78 509.60,318.54 510.65,321.39 511.70,324.32 512.75,327.32 513.80,330.38 514.85,333.50 515.90,336.67 516.95,339.89 518.00,343.14 519.05,346.42 520.10,349.73 521.15,353.05 522.20,356.39 523.25,359.74 524.30,363.08 525.35,366.43 526.40,369.78 527.45,373.11 528.50,376.43 529.55,379.73 530.60,383.01 531.65,386.27 532.70,389.50 533.75,392.69 534.80,395.86 535.85,398.99 536.90,402.09 537.95,405.14 539.00,408.16 540.05,411.13 541.10,414.06 542.15,416.94 543.20,419.77 544.25,422.56 545.30,425.30 546.35,427.99 547.40,430.63 548.45,433.21 549.50,435.75 550.55,438.24 551.60,440.67 552.65,443.05 553.70,445.38 554.75,447.66 555.80,449.89 556.85,452.06 557.90,454.18 558.95,456.26 560.00,458.28 561.05,460.25 562.10,462.17 563.15,464.04 564.20,465.87 565.25,467.64 566.30,469.37 567.35,471.05 568.40,472.69 569.45,474.28 570.50,475.83 571.55,477.33 572.60,478.79 573.65,480.20 574.70,481.58 575.75,482.91 576.80,484.21 577.85,485.46 578.90,486.68 579.95,487.86 581.00,489.01 582.05,490.11 583.10,491.19 584.15,492.23 585.20,493.23 586.25,494.20 587.30,495.15 588.35,496.06 589.40,496.94 590.45,497.79 591.50,498.61 592.55,499.41 593.60,500.18 594.65,500.92 595.70,501.64 596.75,502.33 597.80,503.00 598.85,503.65 599.90,504.27 600.95,504.87 602.01,505.45 603.06,506.01 604.11,506.55 605.16,507.07 606.21,507.57 607.26,508.06 608.31,508.52 609.36,508.97 610.41,509.40 611.46,509.82 612.51,510.22 613.56,510.61 614.61,510.98 615.66,511.34 616.71,511.68 617.76,512.01 618.81,512.33 619.86,512.64 620.91,512.93 621.96,513.21 623.01,513.49 624.06,513.75 625.11,514.00 626.16,514.24 627.21,514.47 628.26,514.70 629.31,514.91 630.36,515.12 631.41,515.32 632.46,515.51 633.51,515.69 634.56,515.86 635.61,516.03 636.66,516.19 637.71,516.35 638.76,516.50 639.81,516.64 640.86,516.78 641.91,516.91 642.96,517.03 644.01,517.16 645.06,517.27 646.11,517.38 647.16,517.49 648.21,517.59 649.26,517.69 650.31,517.78 651.36,517.87 652.41,517.96 653.46,518.04 654.51,518.12 655.56,518.20 656.61,518.27 657.66,518.34 658.71,518.40 659.76,518.47 660.81,518.53 661.86,518.59 662.91,518.64 663.96,518.70 665.01,518.75 666.06,518.80 667.11,518.84 668.16,518.89 669.21,518.93 670.26,518.97 671.31,519.01 672.36,519.05 673.41,519.09 674.46,519.12 675.51,519.15 676.56,519.19 677.61,519.22 678.66,519.24 679.71,519.27 680.76,519.30 681.81,519.32 682.86,519.35 683.91,519.37 684.96,519.39 686.01,519.41 687.06,519.43 688.11,519.45 689.16,519.47 690.21,519.49 691.26,519.50 692.31,519.52 693.36,519.54 694.41,519.55 695.46,519.56 696.51,519.58 697.56,519.59 698.61,519.60 699.66,519.61 700.71,519.62 701.76,519.63 702.81,519.64 703.86,519.65 704.91,519.66 705.96,519.67 707.01,519.68 708.06,519.69 709.11,519.70 710.16,519.70 711.21,519.71 712.26,519.72 713.31,519.72 714.36,519.73 715.41,519.73 716.46,519.74 717.51,519.75 718.56,519.75 719.61,519.76 720.66,519.76 721.71,519.76 722.76,519.77 723.81,519.77 724.86,519.78 725.91,519.78 726.96,519.78 728.01,519.79 729.06,519.79 730.11,519.79 731.16,519.79 732.21,519.80 733.26,519.80 734.31,519.80 735.36,519.80 736.41,519.81 737.46,519.81 738.51,519.81 739.56,519.81 740.61,519.81 741.66,519.82 742.71,519.82 743.76,519.82 744.81,519.82" fill="none" stroke="#ff0000" stroke-width="1.85" stroke-linejoin="round" stroke-linecap="butt"/>
<rect x="414.3" y="279.5" width="345.30" height="240.35" fill="none" stroke="#000" stroke-opacity="0.74" stroke-width="1.05"/>
<g stroke="#000" stroke-opacity="0.8" stroke-width="0.8">
<line x1="429.80" y1="519.85" x2="429.80" y2="521.45"/>
<line x1="456.66" y1="519.85" x2="456.66" y2="521.45"/>
<line x1="483.51" y1="519.85" x2="483.51" y2="521.45"/>
<line x1="510.37" y1="519.85" x2="510.37" y2="521.45"/>
<line x1="537.22" y1="519.85" x2="537.22" y2="521.45"/>
<line x1="564.08" y1="519.85" x2="564.08" y2="521.45"/>
<line x1="590.93" y1="519.85" x2="590.93" y2="521.45"/>
<line x1="617.79" y1="519.85" x2="617.79" y2="521.45"/>
<line x1="644.64" y1="519.85" x2="644.64" y2="521.45"/>
<line x1="671.50" y1="519.85" x2="671.50" y2="521.45"/>
<line x1="698.35" y1="519.85" x2="698.35" y2="521.45"/>
<line x1="725.21" y1="519.85" x2="725.21" y2="521.45"/>
<line x1="414.3" y1="519.85" x2="412.7" y2="519.85"/>
<line x1="414.3" y1="492.27" x2="412.7" y2="492.27"/>
<line x1="414.3" y1="464.69" x2="412.7" y2="464.69"/>
<line x1="414.3" y1="437.11" x2="412.7" y2="437.11"/>
<line x1="414.3" y1="409.53" x2="412.7" y2="409.53"/>
<line x1="414.3" y1="381.95" x2="412.7" y2="381.95"/>
<line x1="414.3" y1="354.37" x2="412.7" y2="354.37"/>
<line x1="414.3" y1="326.79" x2="412.7" y2="326.79"/>
<line x1="414.3" y1="299.21" x2="412.7" y2="299.21"/>
</g>
<g font-family='"Liberation Serif", serif' font-size="13.0" fill="#222" opacity="0.999">
<text transform="translate(429.80,531.85) scale(0.875,1)" text-anchor="middle">0</text>
<text transform="translate(456.66,531.85) scale(0.875,1)" text-anchor="middle">50</text>
<text transform="translate(483.51,531.85) scale(0.875,1)" text-anchor="middle">100</text>
<text transform="translate(510.37,531.85) scale(0.875,1)" text-anchor="middle">150</text>
<text transform="translate(537.22,531.85) scale(0.875,1)" text-anchor="middle">200</text>
<text transform="translate(564.08,531.85) scale(0.875,1)" text-anchor="middle">250</text>
<text transform="translate(590.93,531.85) scale(0.875,1)" text-anchor="middle">300</text>
<text transform="translate(617.79,531.85) scale(0.875,1)" text-anchor="middle">350</text>
<text transform="translate(644.64,531.85) scale(0.875,1)" text-anchor="middle">400</text>
<text transform="translate(671.50,531.85) scale(0.875,1)" text-anchor="middle">450</text>
<text transform="translate(698.35,531.85) scale(0.875,1)" text-anchor="middle">500</text>
<text transform="translate(725.21,531.85) scale(0.875,1)" text-anchor="middle">550</text>
<text transform="translate(411.10,524.65) scale(0.875,1)" text-anchor="end">0</text>
<text transform="translate(411.10,497.07) scale(0.875,1)" text-anchor="end">10</text>
<text transform="translate(411.10,469.49) scale(0.875,1)" text-anchor="end">20</text>
<text transform="translate(411.10,441.91) scale(0.875,1)" text-anchor="end">30</text>
<text transform="translate(411.10,414.33) scale(0.875,1)" text-anchor="end">40</text>
<text transform="translate(411.10,386.75) scale(0.875,1)" text-anchor="end">50</text>
<text transform="translate(411.10,359.17) scale(0.875,1)" text-anchor="end">60</text>
<text transform="translate(411.10,331.59) scale(0.875,1)" text-anchor="end">70</text>
<text transform="translate(411.10,304.01) scale(0.875,1)" text-anchor="end">80</text>
</g>
<text x="586.95" y="545.55" text-anchor="middle" font-family='"Liberation Serif", serif' font-size="13.5" fill="#222" textLength="76.3" lengthAdjust="spacingAndGlyphs">Projected S/N</text>
<text transform="translate(396.10,399.68) rotate(-90)" text-anchor="middle" font-family='"Liberation Serif", serif' font-size="13.5" fill="#222" textLength="37.8" lengthAdjust="spacingAndGlyphs">Counts</text>
<rect x="677.80" y="286.10" width="74.80" height="44.30" rx="3" ry="3" fill="#fff" fill-opacity="0.8" stroke="#ccc" stroke-opacity="0.8" stroke-width="0.7"/>
<g font-family='"Liberation Serif", serif' font-size="13.3" fill="#222" opacity="0.999">
<text x="683.90" y="300.10" font-style="italic" font-size="14" textLength="8.2" lengthAdjust="spacingAndGlyphs">S</text>
<text x="692.40" y="302.20" font-size="9.31">0</text>
<text x="701.10" y="301.10" font-size="17">=</text>
<text transform="translate(715.10,300.30) scale(0.975,1)" font-size="13.7">146.7</text>
<text x="684.00" y="319.00" font-style="italic" font-size="14" textLength="7.8" lengthAdjust="spacingAndGlyphs">n</text>
<text x="691.90" y="321.10" font-size="9.31" textLength="12.6" lengthAdjust="spacingAndGlyphs">ISS</text>
<text x="709.50" y="320.00" font-size="17">=</text>
<text transform="translate(723.90,319.20) scale(0.975,1)" font-size="13.7">4.63</text>
</g>
</g>
</svg>
</body></html>
